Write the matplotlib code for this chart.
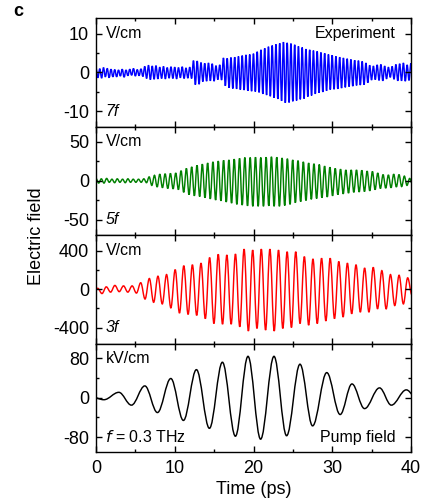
import numpy as np
import matplotlib
matplotlib.use("Agg")
import matplotlib.pyplot as plt
from matplotlib.path import Path
from matplotlib.patches import PathPatch
from matplotlib.ticker import MultipleLocator

plt.rcParams['font.family'] = ['Liberation Sans', 'DejaVu Sans']
plt.rcParams['axes.unicode_minus'] = False

# --- данные: экстремумы (пики/провалы) каждого сигнала ---

# 7f (V/cm), шаг между экстремумами 0.238 ps
half_7f = 0.238
field_7f = [
    1.1, -1.4, 0.9, -1.5, 1.2, -1.2, 1.0, -1.4, 0.8, -1.2,
    0.7, -1.2, 0.6, -1.0, 0.8, -1.3, 0.6, -0.9,
    0.8, -0.8, 1.0, -1.0, 0.7, -0.9, 0.9, -1.1,
    1.5, -1.6, 1.8, -1.9, 1.6, -1.8, 1.7, -1.7,
    1.3, -1.6, 1.5, -1.7, 1.2, -1.5, 1.4, -1.6, 1.3, -1.7, 1.2, -1.4, 1.4, -1.6, 1.1, -1.5, 1.3, -1.6,
    3.0, -3.2, 2.9, -3.1,
    2.5, -2.4, 2.3, -2.3, 2.4, -2.2, 2.2, -2.3,
    1.7, -1.9, 1.9, -2.0,
    3.7, -3.5, 3.6, -4.0,
    3.8, -4.2, 3.9, -4.3, 4.1, -4.5,
    4.3, -4.6, 4.5, -4.8, 4.6, -4.9,
    4.8, -5.0, 5.3, -5.2, 5.8, -5.6,
    6.2, -5.9, 6.6, -6.2, 6.9, -6.6,
    7.2, -6.9, 7.5, -7.4, 7.8, -7.9,
    7.6, -7.8, 7.4, -7.5, 7.1, -7.3,
    6.7, -7.0, 6.4, -6.8, 6.0, -6.3,
    5.8, -6.0, 5.6, -5.6, 5.4, -5.3,
    5.1, -5.1, 4.9, -4.8, 4.6, -4.5,
    4.4, -4.4, 4.1, -4.3, 3.9, -4.1,
    3.7, -3.9, 3.5, -3.7, 3.3, -3.6,
    3.1, -3.4, 3.0, -3.3, 2.8, -3.2,
    2.4, -2.7, 1.8, -2.0, 1.6, -1.9,
    1.9, -2.1, 2.0, -2.2,
    1.6, -1.7, 1.3, -1.3,
    1.5, -1.8, 2.0, -2.2,
    2.2, -2.2, 2.4, -2.3, 1.9, -2.1, 2.3, -2.4,
]

# 5f (V/cm), шаг 0.3375 ps
half_5f = 0.3375
field_5f = [
    3, -3, 2.5, -3, 3, -2, 2, -2.5, 2.5, -2, 2, -2.5, 2.5, -2, 2, -2, 2, -2, 2.5, -2.5,
    5, -6, 7, -8, 8.5, -9, 9, -10, 9.5, -10.5, 10, -11.5,
    13, -15, 16, -18, 18, -19.5, 20, -20.5, 21.5, -22, 23, -23.5,
    24.5, -25, 25.5, -26, 26.5, -27.5, 27, -29, 28, -30.5, 29, -31.5,
    30, -32.5, 30, -33, 30.5, -33, 30, -33, 30.5, -32.5, 31, -33, 30.5, -33,
    29.5, -32, 28.5, -30.5, 27, -28.5, 26, -27, 24.5, -25.5, 23, -24,
    22, -23, 21, -22, 19, -21, 17.5, -19.5, 16, -18, 15, -17,
    14, -16, 14, -15, 14, -14.5, 13.5, -14, 12.5, -13, 12, -11.5,
    10, -10, 8, -9.5, 7.5, -9, 8.5, -8, 8, -7.5, 6, -6, 3, -4, 2, -2,
]

# 3f (V/cm), шаг 0.5467 ps, первый экстремум при -0.334 ps
t0_3f = -0.334
half_3f = 0.5467
field_3f = [
    -10, 10, -45, 25, -30, 40, -25, 35, -30, 35, -40,
    68, -102, 112, -136, 136, -153, 153, -194, 204, -248, 245, -262, 255, -272,
    272, -306, 330, -357, 364, -364, 357, -364, 367, -391, 418, -435, 408, -408,
    418, -425, 418, -435, 408, -408, 391, -398, 391, -357, 340, -374, 316, -357,
    323, -330, 323, -306, 289, -289, 272, -255, 255, -238, 221, -238, 228, -204,
    194, -204, 153, -170, 146, -153, 119, -60,
]

# поле накачки (kV/cm)
t_pump = [-0.6, 1.0, 2.9, 4.5, 6.2, 7.8, 9.5, 11.1, 12.75, 14.4, 16.05, 17.7, 19.3,
          20.9, 22.6, 24.2, 25.9, 27.5, 29.3, 31.0, 32.5, 34.1, 36.0, 37.5, 39.4, 41.0]
field_pump = [2, -4, 11, -15, 24, -30, 39, -46, 57, -62, 72, -78, 84,
              -84, 84, -77, 68, -57, 51, -34, 28, -22, 20, -15, 16, -8]

t_7f = np.arange(len(field_7f)) * half_7f
t_5f = np.arange(len(field_5f)) * half_5f
t_3f = t0_3f + np.arange(len(field_3f)) * half_3f


def wave_path(t, v, k=0.364):
    # гладкая кривая через экстремумы (горизонтальные касательные), кубические Безье
    verts = [(t[0], v[0])]
    codes = [Path.MOVETO]
    for i in range(len(t) - 1):
        dt = t[i + 1] - t[i]
        verts += [(t[i] + k * dt, v[i]), (t[i + 1] - k * dt, v[i + 1]), (t[i + 1], v[i + 1])]
        codes += [Path.CURVE4] * 3
    return Path(verts, codes)


panels = [
    (t_7f, field_7f, '#0000ff', 14, [-10, 0, 10], 5, 'V/cm', '7f', 'Experiment'),
    (t_5f, field_5f, '#008000', 70, [-50, 0, 50], 25, 'V/cm', '5f', None),
    (t_3f, field_3f, '#ff0000', 565, [-400, 0, 400], 200, 'V/cm', '3f', None),
    (t_pump, field_pump, 'black', 110, [-80, 0, 80], 40, 'kV/cm', None, 'Pump field'),
]

fig, axes = plt.subplots(4, 1, sharex=True, figsize=(4.22, 5.0), dpi=100)
fig.subplots_adjust(left=0.2275, right=0.974, top=0.964, bottom=0.096, hspace=0)

for ax, (t, v, color, lim, yt, ymin, unit, label, right_text) in zip(axes, panels):
    ax.add_patch(PathPatch(wave_path(t, v), fill=False, edgecolor=color, lw=1.05))
    ax.set_xlim(0, 40)
    ax.set_ylim(-lim, lim)
    ax.set_yticks(yt)
    ax.set_xticks([0, 10, 20, 30, 40])
    ax.xaxis.set_minor_locator(MultipleLocator(5))
    ax.yaxis.set_minor_locator(MultipleLocator(ymin))
    ax.tick_params(which='both', direction='in', top=True, right=True, width=1.0, labelsize=13)
    ax.tick_params(which='major', length=4)
    ax.tick_params(which='minor', length=2.5)
    ax.tick_params(axis='y', pad=5)
    ax.tick_params(axis='x', pad=6)
    for s in ax.spines.values():
        s.set_linewidth(1.0)

    ax.text(1.2, yt[2], unit, fontsize=11.5, ha='left', va='center')
    if label:
        ax.text(1.2, yt[0], label, fontsize=11.5, ha='left', va='center', style='italic')
    if right_text:
        y = yt[2] if label else yt[0]
        ax.text(38.0, y, right_text, fontsize=11.5, ha='right', va='center')

axes[3].text(1.2, -80, r'$\it{f}$ = 0.3 THz', fontsize=11.5, ha='left', va='center')

axes[3].set_xlabel('Time (ps)', fontsize=13, labelpad=3)
fig.text(0.086, 0.527, 'Electric field', rotation=90, fontsize=13, ha='center', va='center')
fig.text(0.043, 0.978, 'c', fontsize=13, fontweight='bold', ha='center', va='center')

fig.savefig('out.png', dpi=100)
